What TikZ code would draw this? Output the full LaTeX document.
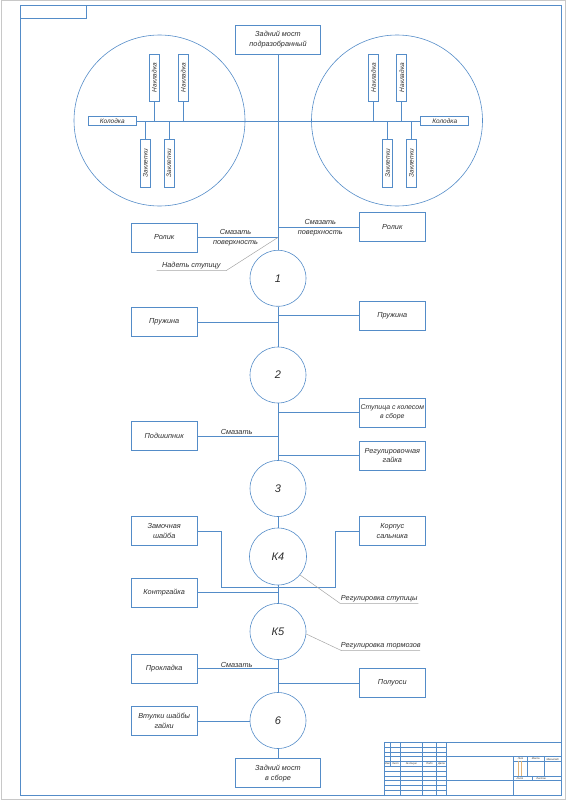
\documentclass[tikz,border=0pt]{standalone}
\usepackage{fontspec}
\setmainfont{Liberation Sans}
\definecolor{lc}{RGB}{84,140,200}
\definecolor{tc}{RGB}{45,45,45}
\definecolor{pg}{RGB}{200,200,200}
\definecolor{oc}{RGB}{225,180,120}
\newcommand\ft{\fontsize{7.3}{9.8}\selectfont\itshape}
\newcommand\ftn{\fontsize{6.9}{9.8}\selectfont\itshape}
\newcommand\fts{\fontsize{6.5}{7}\selectfont\itshape}
\newcommand\ftc{\fontsize{11}{12}\selectfont\itshape}
\newcommand\ftt{\fontsize{2.6}{3}\selectfont\itshape}
\tikzset{
  ln/.style={draw=lc, line width=0.6pt},
  frm/.style={draw=lc, line width=0.8pt},
  lead/.style={draw=gray!70, line width=0.5pt},
  box/.style={draw=lc, line width=0.6pt, minimum width=66.5pt, minimum height=29pt, inner sep=0pt, align=center, font=\ft, text=tc},
  vbox/.style={draw=lc, line width=0.6pt, minimum width=10pt, minimum height=47.5pt, inner sep=0pt, font=\fts, text=tc},
  hbox/.style={draw=lc, line width=0.6pt, minimum width=48pt, minimum height=8.6pt, inner sep=0pt, font=\fts, text=tc},
  stage/.style={circle, draw=lc, line width=0.6pt, minimum size=56pt, inner sep=0pt, font=\ftc, text=tc},
  big/.style={circle, draw=lc, line width=0.6pt, minimum size=171pt, inner sep=0pt},
  lbl/.style={font=\ft, text=tc, align=center, inner sep=0pt},
  tbt/.style={font=\ftt, text=tc, inner sep=0pt},
}
\begin{document}
\begin{tikzpicture}[x=1pt,y=-1pt]
\useasboundingbox (0,0) rectangle (566,800);
% page edge and frame
\draw[pg, line width=1pt] (1,1) rectangle (565,799);
\draw[frm] (20,5.3) rectangle (561,795);
\draw[frm] (20,5.3) rectangle (86.7,18.7);

% top box
\node[box, minimum width=85pt] (top) at (278,39.5) {Задний мост\\подразобранный};

% big circles
\node[big] (bigL) at (159.5,120.5) {};
\node[big] (bigR) at (397,120.5) {};

% kolodka
\node[hbox] (kolL) at (112.2,120.8) {Колодка};
\node[hbox] (kolR) at (444.7,120.8) {Колодка};
\draw[ln] (kolL.east) -- (kolR.west);

% nakladki
\node[vbox] (nL1) at (154.3,77.7) {\rotatebox{90}{Накладка}};
\node[vbox] (nL2) at (183.3,77.7) {\rotatebox{90}{Накладка}};
\node[vbox] (nR1) at (373.5,77.7) {\rotatebox{90}{Накладка}};
\node[vbox] (nR2) at (401.7,77.7) {\rotatebox{90}{Накладка}};
\foreach \n in {nL1,nL2,nR1,nR2}{\draw[ln] (\n.south) -- (\n.south |- kolL.east);}

% zaklepki
\node[vbox, minimum height=48pt] (zL1) at (145.5,163.3) {\rotatebox{90}{Заклепки}};
\node[vbox, minimum height=48pt] (zL2) at (169,163.3) {\rotatebox{90}{Заклепки}};
\node[vbox, minimum height=48pt] (zR1) at (387.7,163.3) {\rotatebox{90}{Заклепки}};
\node[vbox, minimum height=48pt] (zR2) at (411.3,163.3) {\rotatebox{90}{Заклепки}};
\foreach \n in {zL1,zL2,zR1,zR2}{\draw[ln] (\n.north) -- (\n.north |- kolL.east);}

% stages
\node[stage] (c1) at (278,278.3) {1};
\node[stage] (c2) at (278,375) {2};
\node[stage] (c3) at (278,488.5) {3};
\node[stage, minimum size=57pt] (c4) at (278,556.5) {К4};
\node[stage] (c5) at (278,631.5) {К5};
\node[stage] (c6) at (278,720.5) {6};
\node[box, minimum width=85pt] (bot) at (278,773.2) {Задний мост\\в сборе};

% main line
\draw[ln] (top.south) -- (c1.north);
\draw[ln] (c1.south) -- (c2.north);
\draw[ln] (c2.south) -- (c3.north);
\draw[ln] (c3.south) -- (c4.north);
\draw[ln] (c4.south) -- (c5.north);
\draw[ln] (c5.south) -- (c6.north);
\draw[ln] (c6.south) -- (bot.north);

% side boxes
\node[box] (rolL) at (164.2,237.4) {Ролик};
\node[box] (rolR) at (392.3,227.2) {Ролик};
\node[box] (prL) at (164.2,322.2) {Пружина};
\node[box] (prR) at (392.3,315.5) {Пружина};
\node[box, font=\ftn] (stup) at (392.3,412.3) {Ступица с колесом\\в сборе};
\node[box] (podsh) at (164.2,436.2) {Подшипник};
\node[box] (regg) at (392.3,455.5) {Регулировочная\\гайка};
\node[box] (zam) at (164.2,531.2) {Замочная\\шайба};
\node[box] (korp) at (392.3,531.2) {Корпус\\сальника};
\node[box] (kontr) at (164.2,592.5) {Контргайка};
\node[box] (prokl) at (164.2,668.7) {Прокладка};
\node[box] (poluo) at (392.3,682.8) {Полуоси};
\node[box] (vtul) at (164.2,720.8) {Втулки шайбы\\гайки};

\foreach \n in {rolL,prL,podsh,kontr,prokl}{\draw[ln] (\n.east) -- (\n.east -| top.south);}
\foreach \n in {rolR,prR,stup,regg,poluo}{\draw[ln] (\n.west) -- (\n.west -| top.south);}
\draw[ln] (vtul.east) -- (vtul.east -| c6.west);

\coordinate (brL) at (221,587.7);
\coordinate (brR) at (335.7,587.7);
\draw[ln] (zam.east) -| (brL) -- (brR) |- (korp.west);

% operation labels
\node[lbl] (sm1) at (235.5,237.8) {Смазать\\поверхность};
\node[lbl] (sm2) at (320.3,227.4) {Смазать\\поверхность};
\node[lbl, anchor=south] (sm3) at (236.7,435) {Смазать};
\node[lbl, anchor=south] (sm4) at (236.7,667.5) {Смазать};

% leaders
\coordinate (nd1) at (226,270.7);
\coordinate (nd2) at (156.7,270.7);
\draw[lead] (rolL.east -| top.south) -- (nd1) -- (nd2);
\node[lbl, anchor=south] (nadet) at (191.4,269.2) {Надеть ступицу};

\coordinate (rs1) at (340,603.3);
\coordinate (rs2) at (418.3,603.3);
\draw[lead] (c4.-40) -- (rs1) -- (rs2);
\node[lbl, anchor=south] (regst) at (379.2,601.8) {Регулировка ступицы};

\coordinate (rt1) at (341.7,650.7);
\coordinate (rt2) at (420,650.7);
\draw[lead] (c5.-5) -- (rt1) -- (rt2);
\node[lbl, anchor=south] (regt) at (380.8,649.2) {Регулировка тормозов};

% title block (mm units)
\begin{scope}[shift={(384,742.3)}, x=0.9578pt, y=-0.9578pt]
  \draw[frm] (0,0) rectangle (185,55);
  \foreach \yy in {5,10,15,20,25,30,35,40,45,50}{\draw[ln, line width=0.5pt] (0,\yy) -- (65,\yy);}
  \draw[ln] (7,0) -- (7,25);
  \foreach \xx in {17,40,55,65}{\draw[ln] (\xx,0) -- (\xx,55);}
  \draw[ln] (65,15) -- (185,15);
  \draw[ln] (65,40) -- (185,40);
  \draw[ln] (135,15) -- (135,55);
  \draw[ln] (135,20) -- (185,20);
  \draw[ln] (135,35) -- (185,35);
  \draw[ln] (150,15) -- (150,35);
  \draw[ln] (167,15) -- (167,35);
  \draw[draw=oc, line width=0.5pt] (140.2,20) -- (140.2,35);
  \draw[draw=oc, line width=0.5pt] (143.8,20) -- (143.8,35);
  \draw[ln] (155,35) -- (155,40);
  \node[tbt] (t1) at (3.5,22.5) {Изм};
  \node[tbt] (t2) at (12,22.5) {Лист};
  \node[tbt] (t3) at (28.5,22.5) {№ докум};
  \node[tbt] (t4) at (47.5,22.5) {Подп};
  \node[tbt] (t5) at (60,22.5) {Дата};
  \node[tbt] (t6) at (142.5,17.5) {Лит};
  \node[tbt] (t7) at (158.5,17.5) {Масса};
  \node[tbt] (t8) at (176,17.5) {Масштаб};
  \node[tbt] (t9) at (142,37.5) {Лист};
  \node[tbt] (t10) at (164,37.5) {Листов};
\end{scope}
\end{tikzpicture}
\end{document}
